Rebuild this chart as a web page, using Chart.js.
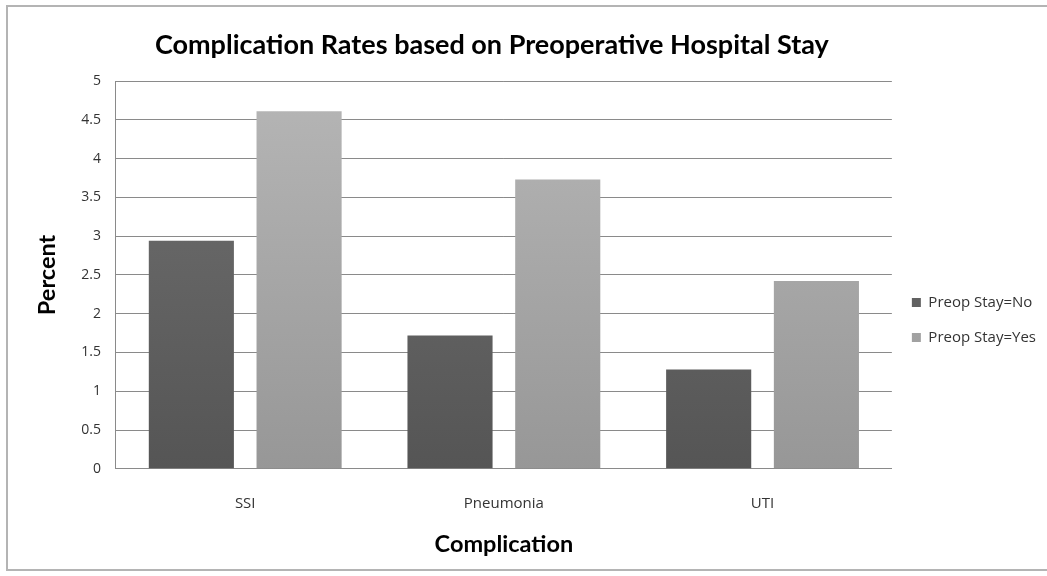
<!DOCTYPE html>
<html>
<head>
<meta charset="utf-8">
<script src="https://cdn.jsdelivr.net/npm/chart.js@4"></script>
<style>
  html, body { margin: 0; padding: 0; background: #fff; }
  #wrap { position: relative; width: 1047px; height: 576px; }
</style>
</head>
<body>
<div id="wrap"><canvas id="chart"></canvas></div>
<script>
var categories = ["SSI", "Pneumonia", "UTI"];
var stayNo = [2.94, 1.72, 1.28];
var stayYes = [4.61, 3.73, 2.42];
var yTicks = [0, 0.5, 1, 1.5, 2, 2.5, 3, 3.5, 4, 4.5, 5];

function gradient(top, bottom) {
  return function(context) {
    var chart = context.chart;
    var area = chart.chartArea;
    if (!area) return bottom;
    var g = chart.ctx.createLinearGradient(0, area.bottom, 0, area.top);
    g.addColorStop(0, bottom);
    g.addColorStop(1, top);
    return g;
  };
}

var frame = {
  id: 'frame',
  beforeDraw: function(chart) {
    var ctx = chart.ctx;
    ctx.save();
    ctx.fillStyle = "#fff";
    ctx.fillRect(0, 0, chart.width, chart.height);
    ctx.strokeStyle = "#b4b4b4";
    ctx.lineWidth = 2;
    ctx.strokeRect(7, 6, 1046, 564);
    ctx.restore();
  }
};

// title is shifted a bit left of the plot centre, as in the source
var frameTitle = {
  id: 'frameTitle',
  afterDraw: function(chart) {
    var area = chart.chartArea;
    var ctx = chart.ctx;
    ctx.save();
    ctx.font = "bold 27px Lato";
    ctx.fillStyle = "#000";
    ctx.textAlign = "center";
    ctx.textBaseline = "middle";
    ctx.fillText("Complication Rates based on Preoperative Hospital Stay", (area.left + area.right) / 2 - 12, 45);
    ctx.restore();
  }
};

var ctx = document.getElementById("chart");
var myChart = new Chart(ctx, {
  type: 'bar',
  data: {
    labels: categories,
    datasets: [{
      label: "Preop Stay=No",
      data: stayNo,
      backgroundColor: gradient("#717171", "#555555"),
      categoryPercentage: 0.833,
      barPercentage: 0.79
    }, {
      label: "Preop Stay=Yes",
      data: stayYes,
      backgroundColor: gradient("#b6b6b6", "#979797"),
      categoryPercentage: 0.833,
      barPercentage: 0.79
    }]
  },
  plugins: [frame, frameTitle],
  options: {
    responsive: true,
    maintainAspectRatio: false,
    animation: false,
    layout: {
      padding: { left: 33, top: 81, right: 1, bottom: 17 }
    },
    plugins: {
      title: { display: false },
      legend: {
        position: 'right',
        labels: {
          boxWidth: 9,
          boxHeight: 9,
          padding: 20,
          color: "#333",
          font: { family: "Open Sans", size: 15 }
        }
      },
      tooltip: { enabled: false }
    },
    scales: {
      x: {
        grid: { display: false, drawTicks: false },
        border: { color: "#8a8a8a", width: 1 },
        ticks: {
          color: "#333",
          padding: 26,
          font: { family: "Open Sans", size: 15 }
        },
        title: {
          display: true,
          text: "Complication",
          color: "#000",
          font: { family: "Lato", size: 23.5, weight: "bold" },
          padding: { top: -8, bottom: 0 }
        }
      },
      y: {
        min: 0,
        max: 5,
        afterBuildTicks: function(axis) {
          axis.ticks = yTicks.map(function(v) { return { value: v }; });
        },
        grid: { color: "#8a8a8a", drawTicks: false },
        border: { color: "#8a8a8a", width: 1 },
        ticks: {
          color: "#333",
          padding: 15,
          font: { family: "Open Sans", size: 14 },
          callback: function(value) { return String(value); }
        },
        title: {
          display: true,
          text: "Percent",
          color: "#000",
          font: { family: "Lato", size: 23.5, weight: "bold" },
          padding: { top: 0, bottom: 5 }
        }
      }
    }
  }
});
</script>
</body>
</html>
